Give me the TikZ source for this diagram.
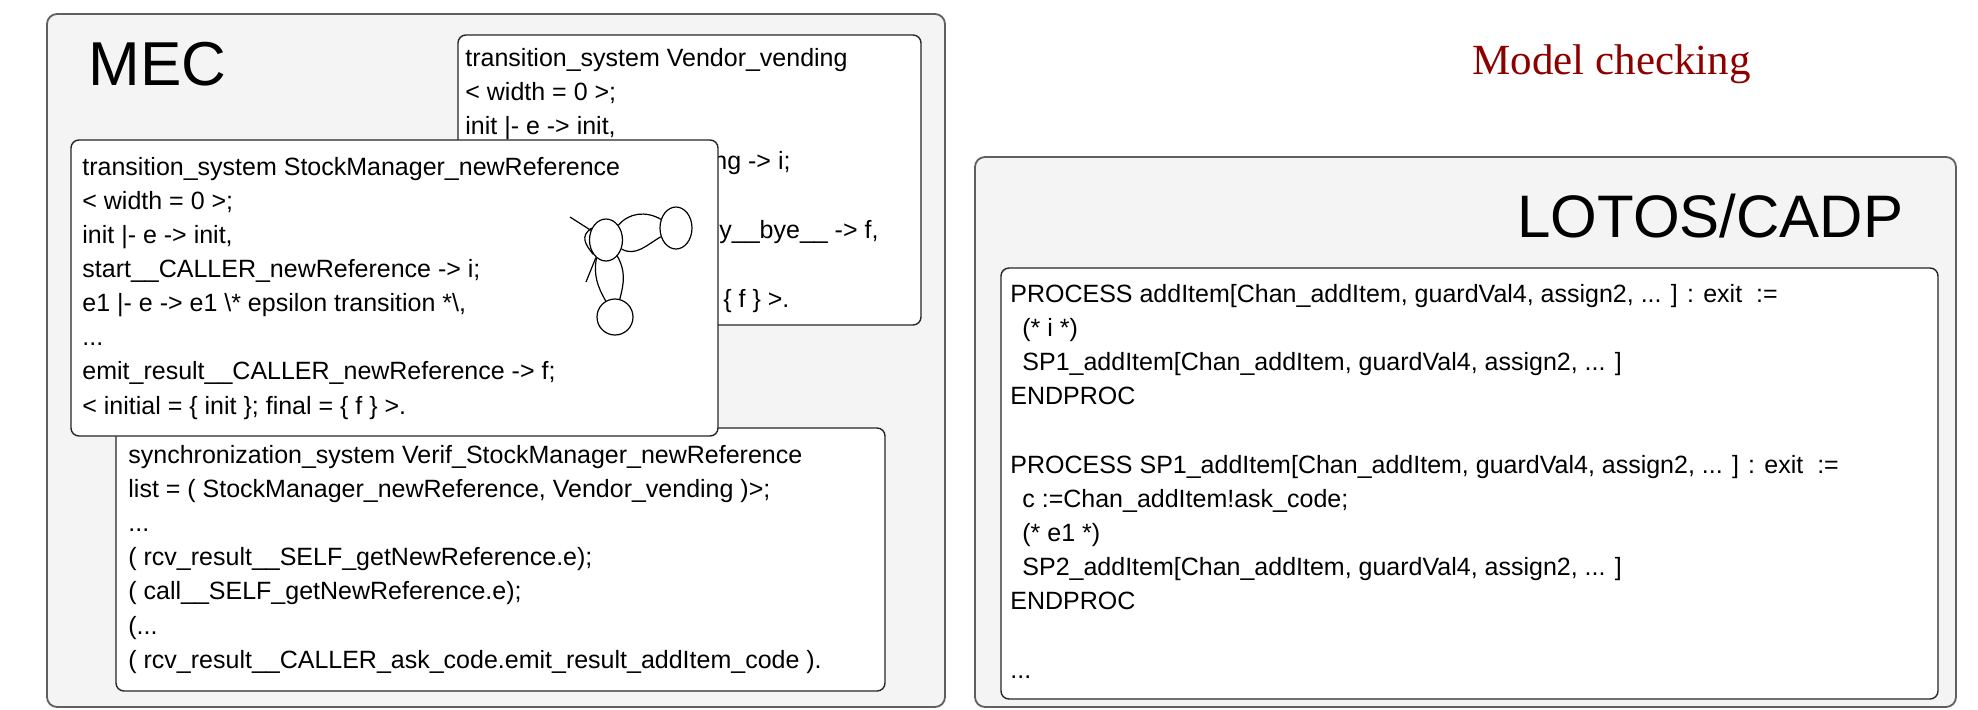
\documentclass[tikz,border=0pt]{standalone}
\usepackage{fontspec}
\setmainfont{Liberation Sans}
\newfontfamily\titleserif{Liberation Serif}
\usetikzlibrary{shapes.geometric}
\definecolor{panelgray}{RGB}{244,244,244}
\definecolor{edgegray}{RGB}{95,95,95}
\definecolor{titlered}{RGB}{140,0,0}
\newcommand\codeindent{\hspace*{6pt}}
\newcommand\threedots{...}

\begin{document}
\begin{tikzpicture}[x=0.5pt,y=0.5pt,
  panel/.style={draw=edgegray,fill=panelgray,line width=0.9pt,rounded corners=5pt},
  codebox/.style={draw=black!85,fill=white,line width=0.7pt,rounded corners=4pt},
  code/.style={font=\fontsize{12.5}{15}\selectfont,anchor=base west,inner sep=0pt},
  bigtitle/.style={font=\fontsize{31}{36}\selectfont,anchor=base west,inner sep=0pt},
  state/.style={draw,ellipse,inner sep=0pt,line width=0.6pt},
  edge/.style={line width=0.6pt}]
\useasboundingbox (0,0) rectangle (1978,-709);

% MEC panel
\draw [panel] (47,-14) rectangle (945,-707);
\node [bigtitle] (mec) at (88,-85) {MEC};

% Vendor transition system (mostly hidden behind the next box)
\draw [codebox] (458,-35) rectangle (921,-325);
\foreach \txt [count=\i from 0] in {%
  {transition\_system Vendor\_vending},
  {< width = 0 >;},
  {init |- e -> init,}}
  \node [code] (vv\i) at (465,{-66-34.4*\i}) {\txt};
\node [code] (vv3) at (713,-169) {ng -> i;};
\node [code] (vv5) at (719,-238) {y\_\_bye\_\_ -> f,};
\node [code] (vv7) at (723,-307) {\{ f \} >.};

% synchronization system
\draw [codebox] (116,-428) rectangle (885,-691);
\foreach \txt [count=\i from 0] in {%
  {synchronization\_system Verif\_StockManager\_newReference},
  {list = ( StockManager\_newReference, Vendor\_vending )>;},
  {\threedots},
  {( rcv\_result\_\_SELF\_getNewReference.e);},
  {( call\_\_SELF\_getNewReference.e);},
  {(\threedots},
  {( rcv\_result\_\_CALLER\_ask\_code.emit\_result\_addItem\_code ).}}
  \node [code] (sy\i) at (128,{-463-34.2*\i}) {\txt};

% StockManager transition system
\draw [codebox] (71,-140) rectangle (718,-436);
\foreach \txt [count=\i from 0] in {%
  {transition\_system StockManager\_newReference},
  {< width = 0 >;},
  {init |- e -> init,},
  {start\_\_CALLER\_newReference -> i;},
  {e1 |- e -> e1 \textbackslash* epsilon transition *\textbackslash,},
  {\threedots},
  {emit\_result\_\_CALLER\_newReference -> f;},
  {< initial = \{ init \}; final = \{ f \} >.}}
  \node [code] (sm\i) at (82,{-175-34.15*\i}) {\txt};

% little automaton
\node [state,minimum width=16.5pt,minimum height=21pt] (s0) at (606,-240) {};
\node [state,minimum width=16pt,minimum height=21pt] (s1) at (676,-228) {};
\node [state,minimum width=18pt,minimum height=18pt] (s2) at (615,-317) {};
\coordinate (s0in) at (570,-217);
\coordinate (s0tick) at (586,-282);
\draw [edge] (s0in) -- (s0);
\draw [edge] (s0.140) .. controls +(-12,-8) and +(-8,10) .. (s0.228);
\draw [edge] (s0.240) -- (s0tick);
\draw [edge] (s0.50) to[out=50,in=150] (s1.150);
\draw [edge] (s0.-30) to[out=-30,in=210] (s1.210);
\draw [edge] (s0.-55) to[out=-60,in=75] (s2.75);
\draw [edge] (s0.-118) to[out=-100,in=120] (s2.120);

% model checking
\node [font=\titleserif\fontsize{21.5}{24}\selectfont,text=titlered,
  anchor=base west,inner sep=0pt] (mc) at (1472,-74) {Model checking};

% LOTOS panel
\draw [panel] (975,-157) rectangle (1956,-707);
\node [bigtitle,font=\fontsize{30}{36}\selectfont] (lotos) at (1517,-237) {LOTOS/CADP};
\draw [codebox] (1001,-268) rectangle (1938,-699);
\foreach \txt [count=\i from 0] in {%
  {PROCESS addItem[Chan\_addItem, guardVal4, assign2, \threedots{} ] : exit\ \ :=},
  {\codeindent(* i *)},
  {\codeindent SP1\_addItem[Chan\_addItem, guardVal4, assign2, \threedots{} ]},
  {ENDPROC},
  {},
  {PROCESS SP1\_addItem[Chan\_addItem, guardVal4, assign2, \threedots{} ] : exit\ \ :=},
  {\codeindent c :=Chan\_addItem!ask\_code;},
  {\codeindent(* e1 *)},
  {\codeindent SP2\_addItem[Chan\_addItem, guardVal4, assign2, \threedots{} ]},
  {ENDPROC},
  {},
  {\threedots}}
  \node [code] (lo\i) at (1010,{-302-34.2*\i}) {\txt};
\end{tikzpicture}
\end{document}
